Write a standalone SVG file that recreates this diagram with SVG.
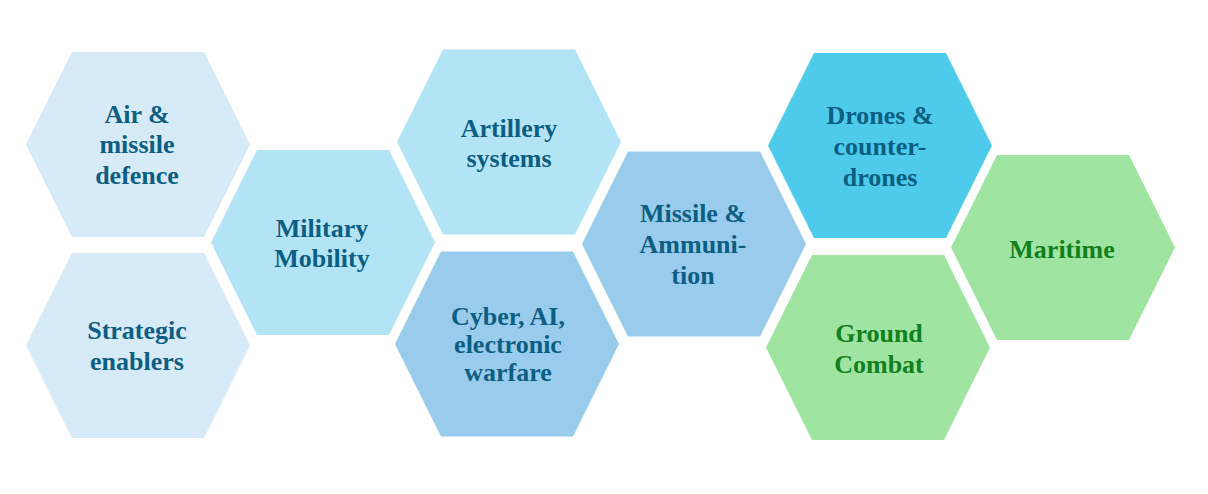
<svg xmlns="http://www.w3.org/2000/svg" width="1208" height="494" viewBox="0 0 1208 494">
<style>
.hex{stroke:none}
.c1{fill:#d7eaf7}
.c2{fill:#b3e4f5}
.c3{fill:#99cbec}
.c4{fill:#4ecbeb}
.c5{fill:#9fe4a0}
text{font-family:"Liberation Serif","Times New Roman",serif;font-weight:bold;font-size:26px;text-anchor:middle}
.tb{fill:#0c5e82}
.tg{fill:#12801e}
</style>
<defs>
<polygon id="hexshape" points="-112,0 -66,-92.5 66,-92.5 112,0 66,92.5 -66,92.5"/>
</defs>
<rect width="1208" height="494" fill="#ffffff"/>
<g id="connectors"></g>
<g id="air-missile-defence">
<use href="#hexshape" class="hex c1" x="138" y="144.5"/>
<text class="tb" x="137" y="123">Air &amp;</text>
<text class="tb" x="137" y="153">missile</text>
<text class="tb" x="137" y="184">defence</text>
</g>
<g id="strategic-enablers">
<use href="#hexshape" class="hex c1" x="138" y="345.5"/>
<text class="tb" x="137" y="339">Strategic</text>
<text class="tb" x="137" y="370">enablers</text>
</g>
<g id="military-mobility">
<use href="#hexshape" class="hex c2" x="323" y="242.5"/>
<text class="tb" x="322" y="237">Military</text>
<text class="tb" x="322" y="267">Mobility</text>
</g>
<g id="artillery-systems">
<use href="#hexshape" class="hex c2" x="509" y="142"/>
<text class="tb" x="509" y="137">Artillery</text>
<text class="tb" x="509" y="167">systems</text>
</g>
<g id="cyber-ai-ew">
<use href="#hexshape" class="hex c3" x="507" y="344"/>
<text class="tb" x="508" y="325">Cyber, AI,</text>
<text class="tb" x="508" y="353">electronic</text>
<text class="tb" x="508" y="381">warfare</text>
</g>
<g id="missile-ammunition">
<use href="#hexshape" class="hex c3" x="694" y="244"/>
<text class="tb" x="693" y="222">Missile &amp;</text>
<text class="tb" x="693" y="253">Ammuni-</text>
<text class="tb" x="693" y="284">tion</text>
</g>
<g id="drones-counter-drones">
<use href="#hexshape" class="hex c4" x="880" y="145.5"/>
<text class="tb" x="880" y="124">Drones &amp;</text>
<text class="tb" x="880" y="155">counter-</text>
<text class="tb" x="880" y="186">drones</text>
</g>
<g id="ground-combat">
<use href="#hexshape" class="hex c5" x="878" y="347.5"/>
<text class="tg" x="879" y="342">Ground</text>
<text class="tg" x="879" y="373">Combat</text>
</g>
<g id="maritime">
<use href="#hexshape" class="hex c5" x="1063" y="247.5"/>
<text class="tg" x="1062" y="258">Maritime</text>
</g>
</svg>
